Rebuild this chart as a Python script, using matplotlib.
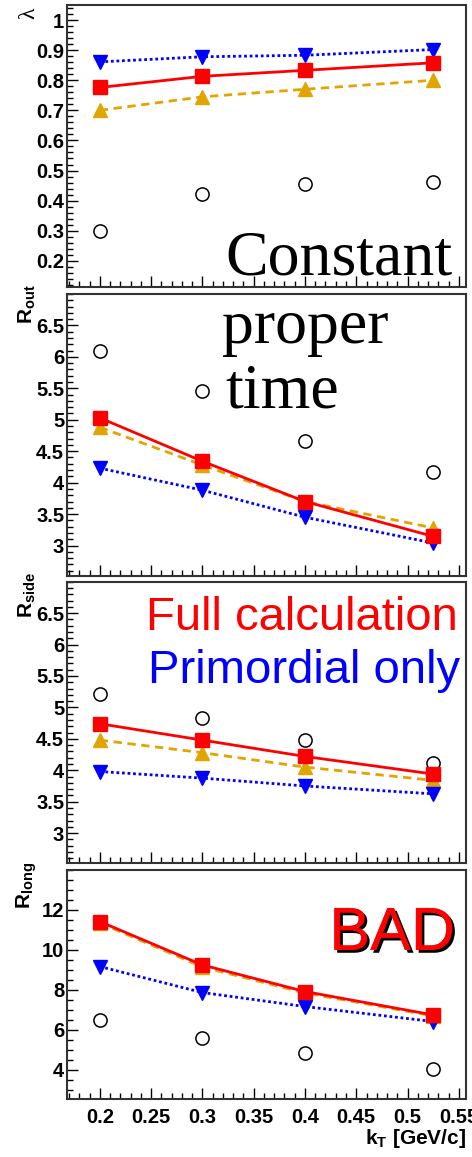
import matplotlib
matplotlib.use('Agg')
import matplotlib.pyplot as plt
from matplotlib.ticker import MultipleLocator, FixedLocator, NullFormatter
import matplotlib.patheffects as pe

# kT bins
kt = [0.2, 0.3, 0.4, 0.525]

# lambda
lam_full = [0.776, 0.813, 0.833, 0.858]
lam_other = [0.70, 0.745, 0.770, 0.800]
lam_prim = [0.861, 0.878, 0.883, 0.902]
lam_data = [0.30, 0.422, 0.456, 0.463]

# R_out
rout_full = [5.03, 4.34, 3.70, 3.145]
rout_other = [4.88, 4.28, 3.70, 3.28]
rout_prim = [4.23, 3.88, 3.45, 3.04]
rout_data = [6.09, 5.45, 4.67, 4.17]

# R_side
rside_full = [4.74, 4.48, 4.22, 3.94]
rside_other = [4.48, 4.28, 4.05, 3.84]
rside_prim = [3.98, 3.875, 3.75, 3.625]
rside_data = [5.216, 4.835, 4.486, 4.12]

# R_long
rlong_full = [11.42, 9.25, 7.92, 6.75]
rlong_other = [11.35, 9.15, 7.85, 6.70]
rlong_prim = [9.17, 7.87, 7.17, 6.42]
rlong_data = [6.5, 5.62, 4.87, 4.03]

panels = [
    (r'$\lambda$', lam_full, lam_other, lam_prim, lam_data, (0.112, 1.05), 0.1, 0.02, [0.2, 0.3, 0.4, 0.5, 0.6, 0.7, 0.8, 0.9, 1.0], ['0.2', '0.3', '0.4', '0.5', '0.6', '0.7', '0.8', '0.9', '1']),
    ('out', rout_full, rout_other, rout_prim, rout_data, (2.52, 7.0), 0.5, 0.1, [3, 3.5, 4, 4.5, 5, 5.5, 6, 6.5], ['3', '3.5', '4', '4.5', '5', '5.5', '6', '6.5']),
    ('side', rside_full, rside_other, rside_prim, rside_data, (2.52, 7.0), 0.5, 0.1, [3, 3.5, 4, 4.5, 5, 5.5, 6, 6.5], ['3', '3.5', '4', '4.5', '5', '5.5', '6', '6.5']),
    ('long', rlong_full, rlong_other, rlong_prim, rlong_data, (2.53, 14.0), 2, 0.5, [4, 6, 8, 10, 12], ['4', '6', '8', '10', '12']),
]

W, H = 472, 1157
fig = plt.figure(figsize=(W / 100, H / 100), dpi=100)

# axes boxes in pixels: (top, bottom)
boxes = [(5, 287.3), (294, 575.7), (581.7, 863.3), (870, 1099.3)]
left_px, right_px = 67, 466

red = '#ff0000'
blue = '#0000ff'
orange = '#e0a500'
tickfont = dict(family='Liberation Sans', weight='bold', size=14.5)

for i, (name, full, other, prim, data, ylim, major, minor, ticks, labels) in enumerate(panels):
    top, bot = boxes[i]
    ax = fig.add_axes([left_px / W, 1 - bot / H, (right_px - left_px) / W, (bot - top) / H])

    ax.plot(kt, other, color=orange, ls=(0, (3, 2)), lw=2, marker='^', ms=10.5, mec=orange, zorder=3)
    ax.plot(kt, prim, color=blue, ls=(0, (1, 1)), lw=2, marker='v', ms=10.5, mec=blue, zorder=3)
    ax.plot(kt, full, color=red, ls='-', lw=2, marker='s', ms=10, mec=red, zorder=4)
    ax.plot(kt, data, ls='none', marker='o', ms=9.5, mfc='none', mec='black', mew=1.1, zorder=2)

    ax.set_xlim(0.168, 0.557)
    ax.set_ylim(*ylim)

    ax.xaxis.set_major_locator(MultipleLocator(0.05))
    ax.xaxis.set_minor_locator(MultipleLocator(0.01))
    ax.yaxis.set_major_locator(FixedLocator(ticks))
    ax.yaxis.set_minor_locator(MultipleLocator(minor))
    ax.set_yticklabels(labels, fontdict=tickfont)
    ax.tick_params(which='major', direction='in', length=8, width=1, top=False, right=False, pad=2)
    ax.tick_params(which='minor', direction='in', length=4, width=1, top=False, right=False)
    for s in ax.spines.values():
        s.set_linewidth(1.5)
        s.set_color('#333333')

    if i < 3:
        ax.xaxis.set_major_formatter(NullFormatter())
    else:
        xt = [0.2, 0.25, 0.3, 0.35, 0.4, 0.45, 0.5, 0.55]
        ax.set_xticks(xt)
        ax.set_xticklabels(['0.2', '0.25', '0.3', '0.35', '0.4', '0.45', '0.5', '0.55'], fontdict=tickfont)
        ax.tick_params(axis='x', pad=6)
        ax.text(1.0, -0.12, r'k$_\mathregular{T}$ [GeV/c]', transform=ax.transAxes,
                ha='right', va='top', family='Liberation Sans', weight='bold', fontsize=15)

    # y axis title at the top-left, ROOT style
    if i == 0:
        ax.text(-0.095, 0.99, 'λ', transform=ax.transAxes, rotation=90,
                ha='center', va='top', fontsize=17, family='Liberation Serif')
    else:
        ax.text(-0.10, 1.035, r'R$_\mathregular{%s}$' % name, transform=ax.transAxes, rotation=90,
                ha='center', va='top', fontsize=15, family='Liberation Sans', weight='bold')

# annotations
serif = dict(family='Liberation Serif', fontsize=46, color='black')
fig.text(225 / W, 1 - 275 / H, 'Constant', ha='left', va='baseline', **serif)
fig.text(222 / W, 1 - 343 / H, 'proper', ha='left', va='baseline', **serif)
fig.text(225 / W, 1 - 408 / H, 'time', ha='left', va='baseline', **serif)

fig.text(458 / W, 1 - 630 / H, 'Full calculation', ha='right', va='baseline',
         family='Liberation Sans', fontsize=34, color=red)
fig.text(460 / W, 1 - 683 / H, 'Primordial only', ha='right', va='baseline',
         family='Liberation Sans', fontsize=34, color=blue)

fig.text(455 / W, 1 - 950 / H, 'BAD', ha='right', va='baseline',
         family='Liberation Sans', fontsize=44, color=red,
         path_effects=[pe.withSimplePatchShadow(offset=(2, -2), shadow_rgbFace='black', alpha=1.0), pe.Normal()])

fig.savefig('out.png', dpi=100)
